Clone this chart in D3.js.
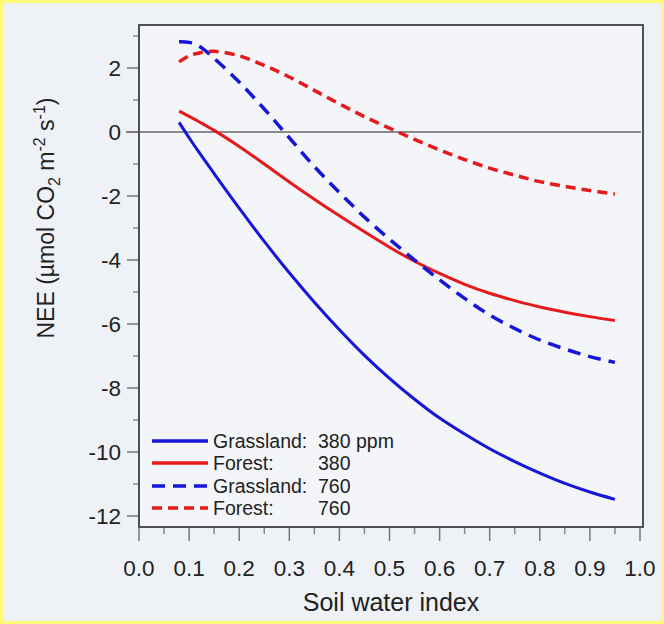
<!DOCTYPE html>
<html><head><meta charset="utf-8">
<script src="https://cdn.jsdelivr.net/npm/d3@7"></script>
<style>
html,body{margin:0;padding:0;background:#fff;}
svg{display:block;font-family:"Liberation Sans",Arial,Helvetica,sans-serif;}
</style></head>
<body><svg id="c" width="664" height="624"></svg>
<script>
// ---- data ----
const soilWater = [0.08,0.10,0.12,0.15,0.20,0.25,0.30,0.35,0.40,0.45,0.50,0.55,0.60,0.65,0.70,0.75,0.80,0.85,0.90,0.95];
const grass380  = [0.30,-0.18,-0.64,-1.30,-2.38,-3.42,-4.40,-5.32,-6.18,-6.98,-7.70,-8.35,-8.94,-9.44,-9.90,-10.30,-10.66,-10.98,-11.25,-11.48];
const forest380 = [0.65,0.49,0.32,0.05,-0.45,-1.00,-1.56,-2.10,-2.62,-3.12,-3.60,-4.04,-4.42,-4.76,-5.04,-5.27,-5.47,-5.63,-5.77,-5.89];
const grass760  = [2.82,2.80,2.68,2.30,1.56,0.72,-0.18,-1.08,-1.89,-2.66,-3.35,-4.00,-4.62,-5.20,-5.72,-6.14,-6.50,-6.78,-7.02,-7.20];
const forest760 = [2.19,2.38,2.47,2.52,2.38,2.08,1.72,1.30,0.88,0.48,0.12,-0.23,-0.56,-0.86,-1.13,-1.35,-1.55,-1.70,-1.83,-1.94];
const xTicks = [0.0,0.1,0.2,0.3,0.4,0.5,0.6,0.7,0.8,0.9,1.0];
const yTicks = [2,0,-2,-4,-6,-8,-10,-12];
const seriesNames = ["Grassland:","Forest:","Grassland:","Forest:"];
const seriesValues = ["380 ppm","380","760","760"];

const svg = d3.select("#c");
const W=664,H=624;
svg.append("rect").attr("x",0).attr("y",0).attr("width",W).attr("height",H).attr("fill","#eef1f6");
svg.append("rect").attr("x",1.5).attr("y",1.5).attr("width",W-3).attr("height",H-3)
  .attr("fill","none").attr("stroke","#fdfa7a").attr("stroke-width",3);

const L=139,R=643,T=25,B=527;
const x = d3.scaleLinear().domain([0,1]).range([L,640]);
const y = d3.scaleLinear().domain([0,-12]).range([132,516]);

svg.append("rect").attr("x",L).attr("y",T).attr("width",R-L).attr("height",B-T).attr("fill","#f3f5f9");

// zero line
svg.append("line").attr("x1",126).attr("x2",R-2).attr("y1",y(0)).attr("y2",y(0))
  .attr("stroke","#8a8a8a").attr("stroke-width",2);

// y ticks
const yMinor = d3.range(-11,4,2);
const gy = svg.append("g");
gy.selectAll("line.maj").data(yTicks).join("line").attr("class","maj")
  .attr("x1",127).attr("x2",L).attr("y1",d=>y(d)).attr("y2",d=>y(d)).attr("stroke","#777").attr("stroke-width",1.5);
gy.selectAll("line.min").data(yMinor).join("line").attr("class","min")
  .attr("x1",133).attr("x2",L).attr("y1",d=>y(d)).attr("y2",d=>y(d)).attr("stroke","#888").attr("stroke-width",1.5);
gy.selectAll("text").data(yTicks).join("text")
  .attr("x",121).attr("y",d=>y(d)+8).attr("text-anchor","end").attr("font-size",22.5).attr("fill","#222")
  .text(d=>d);

// x ticks
const xMinor = d3.range(0.05,1,0.1);
const gx = svg.append("g");
gx.selectAll("line.maj").data(xTicks).join("line").attr("class","maj")
  .attr("x1",d=>x(d)).attr("x2",d=>x(d)).attr("y1",B).attr("y2",B+14).attr("stroke","#777").attr("stroke-width",1.5);
gx.selectAll("line.min").data(xMinor).join("line").attr("class","min")
  .attr("x1",d=>x(d)).attr("x2",d=>x(d)).attr("y1",B).attr("y2",B+7).attr("stroke","#888").attr("stroke-width",1.5);
gx.selectAll("text").data(xTicks).join("text")
  .attr("x",d=>x(d)).attr("y",576).attr("text-anchor","middle").attr("font-size",22.5).attr("fill","#222")
  .text(d=>d.toFixed(1));

// frame
svg.append("rect").attr("x",L).attr("y",T).attr("width",R-L).attr("height",B-T)
  .attr("fill","none").attr("stroke","#505050").attr("stroke-width",2);

// titles
svg.append("text").attr("x",(L+R)/2).attr("y",611).attr("text-anchor","middle").attr("font-size",25).attr("fill","#222")
  .text("Soil water index");
const yt = svg.append("text").attr("transform","translate(54,218) rotate(-90)").attr("text-anchor","middle")
  .attr("font-size",23).attr("fill","#222");
yt.append("tspan").text("NEE (\u00b5mol CO");
yt.append("tspan").attr("font-size",16).attr("dy",6).text("2");
yt.append("tspan").attr("dy",-6).text(" m");
yt.append("tspan").attr("font-size",16).attr("dy",-9).text("-2");
yt.append("tspan").attr("dy",9).text(" s");
yt.append("tspan").attr("font-size",16).attr("dy",-9).text("-1");
yt.append("tspan").attr("dy",9).text(")");

// series
const BLUE="#1616d8", RED="#e41a1c";
const series = [
  {v:grass380, c:BLUE, dash:null, w:3},
  {v:forest380, c:RED, dash:null, w:3},
  {v:grass760, c:BLUE, dash:"13,8", w:3.5},
  {v:forest760, c:RED, dash:"10,6", w:3.5}
];
const line = d3.line().x((d,i)=>x(soilWater[i])).y(d=>y(d)).curve(d3.curveCatmullRom.alpha(0.5));
svg.selectAll("path.s").data(series).join("path").attr("class","s")
  .attr("d",d=>line(d.v)).attr("fill","none").attr("stroke",d=>d.c).attr("stroke-width",d=>d.w)
  .attr("stroke-dasharray",d=>d.dash);

// legend
const ly = [441,463,486,508];
const lg = svg.append("g");
series.forEach((s,i)=>{
  lg.append("line").attr("x1",152).attr("x2",208).attr("y1",ly[i]).attr("y2",ly[i])
    .attr("stroke",s.c).attr("stroke-width",3.5).attr("stroke-dasharray",s.dash);
  lg.append("text").attr("x",213).attr("y",ly[i]+7).attr("font-size",19.5).attr("fill","#222").text(seriesNames[i]);
  lg.append("text").attr("x",318).attr("y",ly[i]+7).attr("font-size",19.5).attr("fill","#222").text(seriesValues[i]);
});
</script></body></html>
